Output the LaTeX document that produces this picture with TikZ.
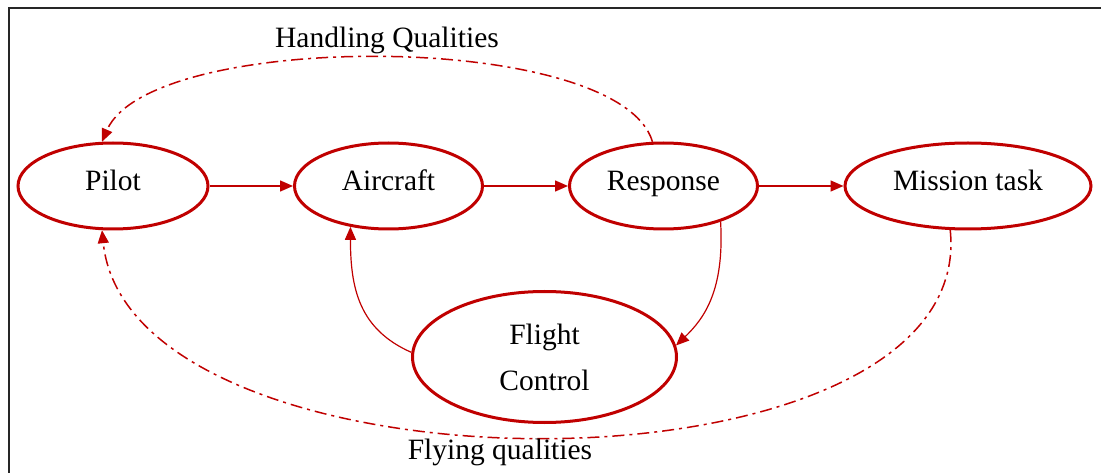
\documentclass[tikz,border=0pt]{standalone}
\usepackage{fontspec}
\setmainfont{Liberation Serif}
\usetikzlibrary{shapes.geometric,arrows.meta}
\definecolor{dred}{HTML}{C00000}
\tikzset{
  blob/.style={ellipse,draw=dred,line width=3pt,inner sep=0pt,
    font=\fontsize{29.5}{46}\selectfont,text=black},
  rowblob/.style={blob,minimum height=86pt,text height=20pt,text depth=10pt},
  flow/.style={draw=dred,line width=1.5pt,-{Triangle[length=13pt,width=11pt]}},
  thinflow/.style={draw=dred,line width=1.2pt,-{Triangle[length=13pt,width=11pt]}},
  dashflow/.style={draw=dred,line width=1.5pt,dash pattern=on 12pt off 5pt on 3pt off 5pt,
    -{Triangle[length=13pt,width=11pt,sep=0pt]}},
  lbl/.style={font=\fontsize{29.5}{35}\selectfont,text=black,inner sep=0pt}
}
\begin{document}
\begin{tikzpicture}[x=1pt,y=-1pt]
\useasboundingbox (0,0) rectangle (1101,473);
% frame (only left and top edges are visible)
\draw[black!85,line width=2pt] (9,480) -- (9,8) -- (1110,8);

\node[rowblob,minimum width=190pt] (pilot) at (113,186) {Pilot};
\node[rowblob,minimum width=188pt] (aircraft) at (388.5,186) {Aircraft};
\node[rowblob,minimum width=188pt] (response) at (663.5,186) {Response};
\node[rowblob,minimum width=246pt] (mission) at (968,186) {Mission task};
\node[blob,minimum width=264pt,minimum height=131pt,align=center] (fc) at (544.5,357) {Flight\\Control};

\draw[flow] (pilot.east) -- (aircraft.west);
\draw[flow] (aircraft.east) -- (response.west);
\draw[flow] (response.east) -- (mission.west);

\draw[thinflow] (fc.178) .. controls +(-52,-23) and +(0,62) .. (aircraft.227);
\draw[thinflow] (response.328) .. controls +(4,69) and +(28,-27) .. (fc.5);

\draw[dashflow] (response.104) .. controls +(-33,-112) and +(48,-112) .. (pilot.104);
\draw[dashflow] (mission.248) .. controls +(29,277) and +(28,275) .. (pilot.256);

\node[lbl] (hq) at (387,40) {Handling Qualities};
\node[lbl] (fq) at (500,452) {Flying qualities};
\end{tikzpicture}
\end{document}
